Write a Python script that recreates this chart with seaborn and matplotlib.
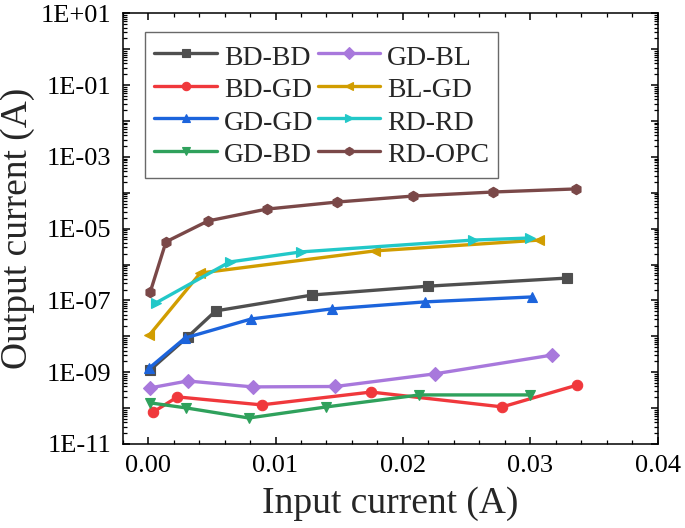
import numpy as np
import pandas as pd
import matplotlib
matplotlib.use("Agg")
import matplotlib.pyplot as plt
import matplotlib.ticker as mticker
import seaborn as sns

series = ["BD-BD", "BD-GD", "GD-GD", "GD-BD", "GD-BL", "BL-GD", "RD-RD", "RD-OPC"]

x_bdbd = [0.00016, 0.0031, 0.0053, 0.0129, 0.0220, 0.0329]
y_bdbd = [1.16e-9, 9.6e-9, 5.1e-8, 1.42e-7, 2.5e-7, 4.2e-7]

x_bdgd = [0.0004, 0.0023, 0.0089, 0.0175, 0.0278, 0.0337]
y_bdgd = [7.8e-11, 2.05e-10, 1.23e-10, 2.8e-10, 1.08e-10, 4.4e-10]

x_gdgd = [0.0001, 0.0029, 0.0081, 0.0144, 0.0217, 0.0301]
y_gdgd = [1.32e-9, 9.0e-9, 3.05e-8, 5.8e-8, 9.1e-8, 1.25e-7]

x_gdbd = [0.00016, 0.0030, 0.0079, 0.0140, 0.0213, 0.0300]
y_gdbd = [1.4e-10, 1.01e-10, 5.3e-11, 1.08e-10, 2.33e-10, 2.33e-10]

x_gdbl = [0.00016, 0.0031, 0.0082, 0.0147, 0.0225, 0.0317]
y_gdbl = [3.66e-10, 5.7e-10, 3.9e-10, 4.0e-10, 9.0e-10, 3.0e-9]

x_blgd = [0.0001, 0.0041, 0.0178, 0.0307]
y_blgd = [1.09e-8, 5.8e-7, 2.4e-6, 4.8e-6]

x_rdrd = [0.0006, 0.0064, 0.0120, 0.0255, 0.0300]
y_rdrd = [8.5e-8, 1.18e-6, 2.25e-6, 4.8e-6, 5.5e-6]

x_rdopc = [0.00016, 0.0014, 0.0047, 0.0093, 0.0148, 0.0208, 0.0271, 0.0336]
y_rdopc = [1.7e-7, 4.3e-6, 1.64e-5, 3.5e-5, 5.5e-5, 8.1e-5, 1.05e-4, 1.28e-4]

xs = [x_bdbd, x_bdgd, x_gdgd, x_gdbd, x_gdbl, x_blgd, x_rdrd, x_rdopc]
ys = [y_bdbd, y_bdgd, y_gdgd, y_gdbd, y_gdbl, y_blgd, y_rdrd, y_rdopc]

colors = ["#4f4f4f", "#f0383c", "#1c64dc", "#2fa15c", "#a878dc", "#d19d00", "#22c8c8", "#7a4848"]
markers = ["s", "o", "^", "v", "D", "<", ">", "h"]

rows = []
for name, xv, yv in zip(series, xs, ys):
    for i, (a, b) in enumerate(zip(xv, yv)):
        rows.append({"series": name, "x": a, "y": b, "order": i})
df = pd.DataFrame(rows)

sns.set_theme(style="ticks")
plt.rcParams["font.family"] = ["Liberation Serif", "DejaVu Serif"]
plt.rcParams["mathtext.fontset"] = "stix"

fig = plt.figure(figsize=(6.85, 5.28), dpi=100)
ax = fig.add_axes([0.1791, 0.1591, 0.7810, 0.8157])

sns.lineplot(data=df, x="x", y="y", hue="series", style="series",
             hue_order=series, style_order=series,
             palette=dict(zip(series, colors)),
             markers=dict(zip(series, markers)), dashes=False,
             estimator=None, sort=False, linewidth=2.4, markersize=7.5,
             markeredgewidth=0.8, ax=ax, legend=True)

for line, c in zip(ax.lines, colors):
    line.set_markeredgecolor(c)

ax.set_yscale("log")
ax.set_xlim(-0.002, 0.04)
ax.set_ylim(1e-11, 10)

ax.xaxis.set_major_locator(mticker.MultipleLocator(0.01))
ax.xaxis.set_minor_locator(mticker.MultipleLocator(0.002))
ax.xaxis.set_major_formatter(mticker.FormatStrFormatter("%.2f"))

ax.yaxis.set_major_locator(mticker.LogLocator(base=10, numticks=30))
ax.yaxis.set_minor_locator(mticker.LogLocator(base=10, subs=np.arange(2, 10), numticks=30))

def yfmt(v, pos):
    if v <= 0:
        return ""
    e = int(round(np.log10(v)))
    if e % 2 == 0:
        return ""
    return "1E{:+03d}".format(e)

ax.yaxis.set_major_formatter(mticker.FuncFormatter(yfmt))
ax.yaxis.set_minor_formatter(mticker.NullFormatter())

ax.tick_params(which="both", direction="in", top=True, right=True, colors="black")
ax.tick_params(which="major", length=5, width=1.1, labelsize=19, pad=8)
ax.tick_params(which="minor", length=3, width=0.9)

for s in ax.spines.values():
    s.set_linewidth(1.1)
    s.set_color("black")

ax.set_xlabel("Input current (A)", fontsize=27, labelpad=7)
ax.set_ylabel("Output current (A)", fontsize=27, labelpad=4)

handles, labels = ax.get_legend_handles_labels()
for h, c in zip(handles, colors):
    h.set_markersize(6)
    h.set_markeredgecolor(c)
    h.set_linewidth(2.4)
leg = ax.legend(handles, labels, ncol=2, loc="upper left",
                bbox_to_anchor=(0.0417, 0.9566), borderaxespad=0,
                fontsize=20, handlelength=2.25, handletextpad=0.25,
                columnspacing=0.15, labelspacing=0.12, borderpad=0.34,
                handleheight=1.15,
                frameon=True, fancybox=False, edgecolor="#444444")
leg.get_frame().set_linewidth(1.0)

fig.savefig("out.png", dpi=100)
